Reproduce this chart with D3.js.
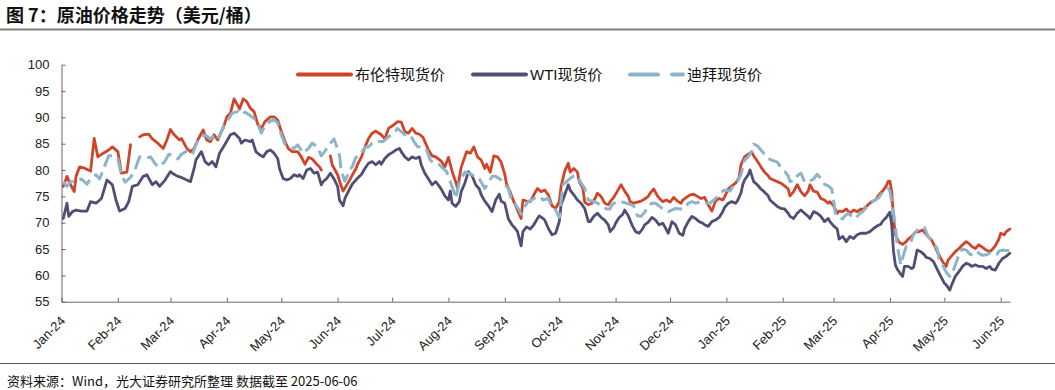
<!DOCTYPE html>
<html><head><meta charset="utf-8">
<script src="https://cdn.jsdelivr.net/npm/d3@7"></script>
<style>
html,body{margin:0;padding:0;background:#fff;}
svg{display:block;}
text{font-family:"Liberation Sans","Noto Sans CJK SC",Arial,sans-serif;}
</style></head><body>
<svg id="chart" width="1055" height="390"></svg>
<script>
const titleText = "图 7：原油价格走势（美元/桶）";
const sourceText = "资料来源：Wind，光大证券研究所整理  数据截至 2025-06-06";
const seriesNames = ["布伦特现货价", "WTI现货价", "迪拜现货价"];
const yTicks = [55, 60, 65, 70, 75, 80, 85, 90, 95, 100];
const xTickDates = ["2024-01-01","2024-02-01","2024-03-01","2024-04-01","2024-05-01","2024-06-01","2024-07-01","2024-08-01","2024-09-01","2024-10-01","2024-11-01","2024-12-01","2025-01-01","2025-02-01","2025-03-01","2025-04-01","2025-05-01","2025-06-01"];
const dateRange = ["2024-01-01", "2025-06-06"];

const brent = [
["2024-01-02",76.9],["2024-01-04",78.8],["2024-01-06",77.2],["2024-01-08",75.9],["2024-01-09",78.8],["2024-01-11",80.6],["2024-01-14",80.3],["2024-01-17",79.8],["2024-01-19",86.0],["2024-01-21",82.5],["2024-01-24",83.2],["2024-01-27",83.8],["2024-01-29",84.4],["2024-02-01",83.5],["2024-02-03",79.4],["2024-02-06",79.6],["2024-02-08",84.8],["2024-02-10",null],["2024-02-13",86.3],["2024-02-15",86.7],["2024-02-18",86.8],["2024-02-20",85.9],["2024-02-23",85.1],["2024-02-26",84.1],["2024-02-28",85.7],["2024-03-01",87.7],["2024-03-03",86.7],["2024-03-06",85.7],["2024-03-07",86.0],["2024-03-10",84.1],["2024-03-12",83.5],["2024-03-14",84.1],["2024-03-16",85.7],["2024-03-19",87.6],["2024-03-21",85.7],["2024-03-23",85.4],["2024-03-25",86.7],["2024-03-27",85.7],["2024-03-29",87.3],
["2024-03-30",87.9],["2024-04-01",90.1],["2024-04-03",90.8],["2024-04-05",93.5],["2024-04-06",92.9],["2024-04-08",91.6],["2024-04-10",93.5],["2024-04-12",93.0],["2024-04-14",91.7],["2024-04-16",91.1],["2024-04-18",88.7],["2024-04-20",87.9],["2024-04-22",89.2],["2024-04-25",90.1],["2024-04-27",90.1],["2024-04-29",89.5],["2024-05-01",87.3],["2024-05-03",85.4],["2024-05-05",84.0],["2024-05-07",83.5],["2024-05-10",83.5],["2024-05-12",82.5],["2024-05-14",81.1],["2024-05-16",82.4],["2024-05-18",82.1],["2024-05-20",81.3],["2024-05-22",80.6],["2024-05-23",80.0],["2024-05-25",null],["2024-05-28",82.7],["2024-05-29",81.0],["2024-06-01",79.1],["2024-06-03",76.9],["2024-06-04",76.0],["2024-06-07",77.7],["2024-06-09",79.0],["2024-06-11",80.2],["2024-06-12",81.1],["2024-06-14",82.4],["2024-06-16",84.3],["2024-06-18",86.0],["2024-06-20",87.0],["2024-06-22",87.4],["2024-06-25",86.7],
["2024-06-27",85.9],["2024-06-29",87.9],["2024-07-02",88.6],["2024-07-04",89.2],["2024-07-06",89.1],["2024-07-08",87.3],["2024-07-10",87.0],["2024-07-12",87.9],["2024-07-14",87.0],["2024-07-16",86.8],["2024-07-18",86.2],["2024-07-21",83.8],["2024-07-23",82.7],["2024-07-25",82.5],["2024-07-28",81.7],["2024-07-30",80.6],["2024-08-01",82.4],["2024-08-03",79.8],["2024-08-05",77.7],["2024-08-06",76.5],["2024-08-08",80.5],["2024-08-10",82.5],["2024-08-11",83.5],["2024-08-13",83.2],["2024-08-15",84.4],["2024-08-17",82.5],["2024-08-19",81.9],["2024-08-21",80.3],["2024-08-22",81.1],["2024-08-24",79.6],["2024-08-26",82.7],["2024-08-28",82.5],["2024-08-30",81.5],["2024-09-01",79.2],["2024-09-02",77.3],["2024-09-04",75.8],["2024-09-06",74.0],["2024-09-08",72.4],["2024-09-10",70.8],["2024-09-11",74.3],["2024-09-13",74.1],["2024-09-15",74.0],["2024-09-17",75.3],["2024-09-19",76.5],["2024-09-21",75.9],
["2024-09-23",76.2],["2024-09-25",75.3],["2024-09-27",73.2],["2024-09-29",72.7],["2024-10-01",74.0],["2024-10-02",76.9],["2024-10-04",79.8],["2024-10-06",81.3],["2024-10-07",79.6],["2024-10-09",80.3],["2024-10-11",79.6],["2024-10-12",77.8],["2024-10-14",76.5],["2024-10-15",73.9],["2024-10-17",73.4],["2024-10-19",73.7],["2024-10-21",74.8],["2024-10-22",75.6],["2024-10-24",75.0],["2024-10-26",73.7],["2024-10-28",73.4],["2024-10-29",74.0],["2024-10-31",74.8],["2024-11-02",76.0],["2024-11-04",77.2],["2024-11-06",76.0],["2024-11-08",75.0],["2024-11-09",74.0],["2024-11-11",73.7],["2024-11-13",73.9],["2024-11-15",74.1],["2024-11-17",74.5],["2024-11-19",75.0],["2024-11-20",75.6],["2024-11-22",76.4],["2024-11-24",75.1],["2024-11-26",74.3],["2024-11-27",74.0],["2024-11-29",74.3],["2024-12-01",73.9],["2024-12-03",74.8],["2024-12-05",74.1],["2024-12-07",73.7],["2024-12-08",74.3],["2024-12-10",74.8],["2024-12-12",75.3],["2024-12-14",75.4],["2024-12-16",75.0],["2024-12-18",74.6],
["2024-12-20",74.8],["2024-12-22",73.4],["2024-12-24",72.2],["2024-12-26",74.1],["2024-12-28",74.6],["2024-12-30",74.3],["2024-12-31",74.9],["2025-01-02",76.4],["2025-01-04",77.0],["2025-01-06",77.5],["2025-01-08",78.6],["2025-01-09",81.0],["2025-01-11",82.5],["2025-01-13",83.0],["2025-01-15",83.4],["2025-01-16",82.7],["2025-01-18",81.7],["2025-01-20",80.6],["2025-01-22",79.6],["2025-01-24",78.9],["2025-01-25",78.4],["2025-01-27",78.1],["2025-01-29",77.8],["2025-01-31",77.5],["2025-02-02",77.0],["2025-02-04",76.4],["2025-02-05",75.1],["2025-02-07",75.9],["2025-02-09",77.2],["2025-02-11",75.9],["2025-02-13",75.1],["2025-02-15",76.0],["2025-02-16",77.2],["2025-02-18",76.0],["2025-02-20",75.8],["2025-02-22",74.6],["2025-02-24",74.3],["2025-02-26",73.7],["2025-02-27",74.0],["2025-03-01",73.2],["2025-03-03",71.8],["2025-03-04",72.2],["2025-03-06",72.1],["2025-03-08",72.6],["2025-03-10",71.8],["2025-03-12",72.4],["2025-03-14",72.1],["2025-03-16",72.6],
["2025-03-17",72.4],["2025-03-20",73.4],["2025-03-22",74.0],["2025-03-24",74.3],["2025-03-26",75.3],["2025-03-28",76.0],["2025-03-30",77.0],["2025-03-31",77.8],["2025-04-01",77.9],["2025-04-02",75.9],["2025-04-03",70.8],["2025-04-04",67.7],["2025-04-06",66.3],["2025-04-08",65.9],["2025-04-10",66.4],["2025-04-11",66.9],["2025-04-13",67.4],["2025-04-15",68.2],["2025-04-17",68.3],["2025-04-19",68.6],["2025-04-21",67.8],["2025-04-22",67.4],["2025-04-24",66.7],["2025-04-26",65.3],["2025-04-28",63.9],["2025-04-30",62.6],["2025-05-02",61.7],["2025-05-03",62.9],["2025-05-05",63.7],["2025-05-07",64.5],["2025-05-09",65.1],["2025-05-11",65.8],["2025-05-13",66.4],["2025-05-15",65.9],["2025-05-16",65.5],["2025-05-18",65.1],["2025-05-20",65.8],["2025-05-22",65.3],["2025-05-24",64.8],["2025-05-26",64.5],["2025-05-27",64.8],["2025-05-29",65.6],["2025-05-31",66.9],["2025-06-01",68.0],["2025-06-03",67.7],["2025-06-04",68.3],["2025-06-06",68.8]
];

const wti = [
["2024-01-02",70.8],["2024-01-04",73.7],["2024-01-05",71.2],["2024-01-07",72.1],["2024-01-09",72.4],["2024-01-12",72.2],["2024-01-15",72.2],["2024-01-17",74.0],["2024-01-20",73.7],["2024-01-23",74.6],["2024-01-26",78.1],["2024-01-29",77.2],["2024-01-31",74.3],["2024-02-02",72.2],["2024-02-05",72.7],["2024-02-07",74.0],["2024-02-09",76.9],["2024-02-12",77.2],["2024-02-15",78.8],["2024-02-17",79.1],["2024-02-20",77.2],["2024-02-22",77.8],["2024-02-24",76.9],["2024-02-27",78.1],["2024-03-01",79.7],["2024-03-02",79.4],["2024-03-05",78.8],["2024-03-07",78.6],["2024-03-10",78.1],["2024-03-12",77.8],["2024-03-14",80.3],["2024-03-15",81.9],["2024-03-18",83.5],["2024-03-20",81.6],["2024-03-22",81.0],["2024-03-24",81.6],["2024-03-26",80.6],["2024-03-28",83.2],
["2024-03-31",84.9],["2024-04-03",86.7],["2024-04-05",87.0],["2024-04-06",86.7],["2024-04-08",86.0],["2024-04-09",85.1],["2024-04-11",85.7],["2024-04-14",85.4],["2024-04-15",85.7],["2024-04-17",83.5],["2024-04-19",82.9],["2024-04-21",82.5],["2024-04-23",83.5],["2024-04-25",83.8],["2024-04-27",83.2],["2024-04-29",82.2],["2024-04-30",80.3],["2024-05-02",78.4],["2024-05-04",78.1],["2024-05-06",78.4],["2024-05-08",79.1],["2024-05-10",78.8],["2024-05-11",79.1],["2024-05-13",78.4],["2024-05-15",80.0],["2024-05-17",80.3],["2024-05-19",79.4],["2024-05-21",79.6],["2024-05-23",77.2],["2024-05-24",77.8],["2024-05-26",78.4],["2024-05-28",79.4],["2024-05-30",78.3],["2024-06-01",76.9],["2024-06-02",74.3],["2024-06-04",73.2],["2024-06-05",74.6],["2024-06-07",76.0],["2024-06-09",77.3],["2024-06-11",78.1],["2024-06-13",78.8],["2024-06-14",79.1],["2024-06-16",80.3],["2024-06-18",81.3],["2024-06-20",81.6],["2024-06-22",81.0],["2024-06-24",81.6],["2024-06-25",81.1],
["2024-06-27",82.2],["2024-06-29",82.9],["2024-07-01",83.3],["2024-07-03",83.8],["2024-07-05",84.1],["2024-07-06",83.5],["2024-07-08",82.5],["2024-07-10",81.9],["2024-07-12",82.5],["2024-07-14",82.2],["2024-07-16",82.5],["2024-07-17",81.0],["2024-07-19",79.4],["2024-07-21",78.3],["2024-07-23",77.2],["2024-07-25",77.8],["2024-07-27",76.9],["2024-07-28",76.4],["2024-07-30",75.1],["2024-08-01",74.3],["2024-08-02",76.0],["2024-08-03",73.7],["2024-08-05",73.1],["2024-08-07",74.0],["2024-08-08",75.9],["2024-08-10",77.5],["2024-08-12",79.7],["2024-08-14",78.9],["2024-08-16",77.2],["2024-08-18",76.4],["2024-08-19",75.3],["2024-08-21",74.1],["2024-08-23",73.2],["2024-08-25",72.1],["2024-08-27",74.3],["2024-08-29",75.4],["2024-08-30",74.1],["2024-09-01",73.7],["2024-09-03",70.7],["2024-09-05",69.6],["2024-09-07",68.8],["2024-09-08",68.3],["2024-09-10",65.6],["2024-09-11",68.3],["2024-09-13",69.2],["2024-09-15",68.8],["2024-09-17",69.6],["2024-09-19",70.8],["2024-09-20",71.3],["2024-09-22",70.8],
["2024-09-23",70.5],["2024-09-25",68.9],["2024-09-27",67.7],["2024-09-29",68.0],["2024-10-01",70.2],["2024-10-02",73.4],["2024-10-04",75.3],["2024-10-06",77.2],["2024-10-07",76.2],["2024-10-09",75.3],["2024-10-11",74.3],["2024-10-13",73.7],["2024-10-15",72.7],["2024-10-17",70.2],["2024-10-18",70.2],["2024-10-20",71.2],["2024-10-22",71.8],["2024-10-24",71.0],["2024-10-26",70.5],["2024-10-28",69.6],["2024-10-29",68.3],["2024-10-31",69.1],["2024-11-01",69.9],["2024-11-03",71.0],["2024-11-05",71.6],["2024-11-06",72.4],["2024-11-08",71.3],["2024-11-10",69.6],["2024-11-12",68.3],["2024-11-14",68.0],["2024-11-16",68.9],["2024-11-17",69.6],["2024-11-19",70.1],["2024-11-21",71.0],["2024-11-23",70.5],["2024-11-25",69.6],["2024-11-27",69.9],["2024-11-28",69.3],["2024-11-30",68.0],["2024-12-02",70.2],["2024-12-04",69.6],["2024-12-06",68.0],["2024-12-08",67.6],["2024-12-09",68.9],["2024-12-11",70.2],["2024-12-13",71.2],["2024-12-15",70.8],["2024-12-17",70.2],["2024-12-19",69.9],
["2024-12-20",69.6],["2024-12-22",69.3],["2024-12-24",70.2],["2024-12-26",70.5],["2024-12-28",71.0],["2024-12-30",72.1],["2024-12-31",72.9],["2025-01-02",73.7],["2025-01-04",74.0],["2025-01-06",73.7],["2025-01-07",74.1],["2025-01-09",75.6],["2025-01-10",77.2],["2025-01-11",78.1],["2025-01-13",79.1],["2025-01-14",80.0],["2025-01-15",78.9],["2025-01-16",77.8],["2025-01-18",77.2],["2025-01-20",76.4],["2025-01-22",75.8],["2025-01-24",75.1],["2025-01-25",74.3],["2025-01-27",73.7],["2025-01-29",73.1],["2025-01-31",72.7],["2025-02-02",72.6],["2025-02-04",71.8],["2025-02-05",71.2],["2025-02-07",70.8],["2025-02-09",71.8],["2025-02-11",72.4],["2025-02-13",71.8],["2025-02-15",71.2],["2025-02-16",70.8],["2025-02-18",72.1],["2025-02-20",71.8],["2025-02-22",71.2],["2025-02-24",70.2],["2025-02-26",70.8],["2025-02-27",70.2],["2025-03-01",69.4],["2025-03-03",68.8],["2025-03-04",66.9],["2025-03-06",67.4],["2025-03-08",66.4],["2025-03-10",67.4],["2025-03-12",67.0],["2025-03-14",67.7],["2025-03-16",68.0],
["2025-03-19",68.0],["2025-03-21",68.3],["2025-03-23",68.9],["2025-03-25",69.4],["2025-03-27",69.7],["2025-03-28",70.3],["2025-03-30",71.0],["2025-04-01",72.0],["2025-04-02",69.6],["2025-04-03",64.5],["2025-04-04",62.0],["2025-04-05",61.2],["2025-04-07",60.2],["2025-04-08",59.8],["2025-04-09",61.7],["2025-04-11",61.7],["2025-04-13",61.3],["2025-04-14",61.5],["2025-04-16",64.8],["2025-04-18",64.5],["2025-04-20",63.9],["2025-04-21",63.4],["2025-04-23",63.2],["2025-04-25",62.6],["2025-04-27",61.2],["2025-04-29",59.8],["2025-05-01",58.5],["2025-05-02",58.2],["2025-05-04",57.2],["2025-05-05",58.2],["2025-05-07",59.8],["2025-05-09",60.7],["2025-05-11",61.7],["2025-05-13",62.3],["2025-05-15",62.0],["2025-05-16",61.7],["2025-05-18",62.0],["2025-05-20",61.7],["2025-05-22",61.7],["2025-05-24",61.3],["2025-05-26",61.7],["2025-05-27",61.2],["2025-05-29",61.0],["2025-05-31",62.3],["2025-06-02",63.2],["2025-06-04",63.6],["2025-06-06",64.2]
];

const dubai = [
["2024-01-02",77.8],["2024-01-04",76.9],["2024-01-06",77.8],["2024-01-09",77.9],["2024-01-12",78.3],["2024-01-15",77.3],["2024-01-17",78.4],["2024-01-20",79.1],["2024-01-22",78.3],["2024-01-25",81.0],["2024-01-27",82.7],["2024-01-30",82.7],["2024-02-01",82.1],["2024-02-03",79.1],["2024-02-05",77.7],["2024-02-08",78.6],["2024-02-10",79.6],["2024-02-13",82.5],["2024-02-16",82.2],["2024-02-19",82.5],["2024-02-22",81.0],["2024-02-24",80.6],["2024-02-27",81.7],["2024-02-29",83.0],["2024-03-03",82.7],["2024-03-05",82.1],["2024-03-07",83.0],["2024-03-10",83.6],["2024-03-13",82.9],["2024-03-15",84.8],["2024-03-17",86.2],["2024-03-20",86.7],["2024-03-23",85.9],["2024-03-25",86.7],["2024-03-27",86.0],["2024-03-29",87.3],
["2024-03-30",88.2],["2024-04-02",89.7],["2024-04-04",90.8],["2024-04-07",91.1],["2024-04-09",90.5],["2024-04-11",91.0],["2024-04-14",90.3],["2024-04-16",89.8],["2024-04-18",88.7],["2024-04-20",87.0],["2024-04-22",88.4],["2024-04-25",89.3],["2024-04-27",89.6],["2024-04-29",88.9],["2024-05-01",86.7],["2024-05-03",84.9],["2024-05-06",84.4],["2024-05-08",84.1],["2024-05-10",84.8],["2024-05-13",83.2],["2024-05-16",84.1],["2024-05-18",85.1],["2024-05-21",84.4],["2024-05-23",82.7],["2024-05-25",83.6],["2024-05-28",85.1],["2024-05-30",85.9],["2024-06-02",82.9],["2024-06-03",79.7],["2024-06-05",77.9],["2024-06-08",80.2],["2024-06-09",80.6],["2024-06-11",82.4],["2024-06-13",82.7],["2024-06-16",84.3],["2024-06-18",84.4],["2024-06-20",85.1],["2024-06-22",85.4],["2024-06-25",85.4],
["2024-06-26",85.4],["2024-06-29",86.3],["2024-07-02",87.0],["2024-07-04",87.9],["2024-07-06",87.3],["2024-07-08",86.7],["2024-07-11",86.7],["2024-07-13",85.4],["2024-07-15",84.4],["2024-07-18",84.4],["2024-07-20",83.8],["2024-07-22",81.9],["2024-07-24",81.3],["2024-07-27",81.0],["2024-07-29",80.3],["2024-07-31",79.7],["2024-08-02",77.8],["2024-08-04",75.9],["2024-08-05",74.6],["2024-08-07",77.8],["2024-08-10",79.6],["2024-08-12",79.4],["2024-08-14",79.1],["2024-08-16",78.6],["2024-08-18",78.3],["2024-08-21",76.5],["2024-08-23",77.5],["2024-08-25",78.8],["2024-08-27",78.8],["2024-08-30",78.1],["2024-09-01",77.2],["2024-09-03",76.5],["2024-09-05",74.0],["2024-09-07",73.4],["2024-09-09",72.4],["2024-09-10",71.6],["2024-09-12",73.1],["2024-09-14",74.0],["2024-09-17",74.6],["2024-09-19",74.9],["2024-09-21",74.8],
["2024-09-22",74.3],["2024-09-25",74.6],["2024-09-27",72.9],["2024-09-29",72.4],["2024-10-01",71.0],["2024-10-03",77.2],["2024-10-05",77.8],["2024-10-07",78.4],["2024-10-09",78.9],["2024-10-11",78.8],["2024-10-13",77.5],["2024-10-15",76.5],["2024-10-17",74.3],["2024-10-19",74.1],["2024-10-21",73.9],["2024-10-23",73.5],["2024-10-25",73.2],["2024-10-27",72.6],["2024-10-29",72.6],["2024-10-30",73.4],["2024-11-01",73.9],["2024-11-03",74.0],["2024-11-05",73.9],["2024-11-07",73.7],["2024-11-09",73.5],["2024-11-11",73.2],["2024-11-13",71.3],["2024-11-15",71.2],["2024-11-17",72.0],["2024-11-19",73.1],["2024-11-21",73.7],["2024-11-23",73.7],["2024-11-26",72.9],["2024-11-28",72.4],["2024-11-30",72.1],["2024-12-02",72.4],["2024-12-04",72.7],["2024-12-07",72.6],["2024-12-09",72.7],["2024-12-11",73.7],["2024-12-13",74.0],["2024-12-15",73.7],["2024-12-18",74.0],
["2024-12-20",73.7],["2024-12-23",73.7],["2024-12-25",74.3],["2024-12-27",74.9],["2024-12-29",75.8],["2024-12-31",76.2],["2025-01-03",76.0],["2025-01-05",77.2],["2025-01-07",77.8],["2025-01-09",79.1],["2025-01-11",81.9],["2025-01-13",82.5],["2025-01-15",83.6],["2025-01-16",84.9],["2025-01-18",84.6],["2025-01-20",83.8],["2025-01-22",83.0],["2025-01-24",82.2],["2025-01-26",81.9],["2025-01-29",81.5],["2025-01-31",80.5],["2025-02-02",79.8],["2025-02-04",78.9],["2025-02-05",77.8],["2025-02-08",78.1],["2025-02-09",78.9],["2025-02-11",79.4],["2025-02-13",77.8],["2025-02-15",77.7],["2025-02-18",78.3],["2025-02-20",79.2],["2025-02-22",78.4],["2025-02-24",77.3],["2025-02-26",77.0],["2025-02-28",76.4],["2025-03-01",74.3],["2025-03-02",71.8],["2025-03-04",71.0],["2025-03-06",70.7],["2025-03-07",71.2],["2025-03-09",71.8],["2025-03-11",71.2],["2025-03-13",70.8],["2025-03-15",71.6],["2025-03-17",72.1],
["2025-03-19",72.9],["2025-03-22",73.9],["2025-03-24",74.3],["2025-03-26",74.8],["2025-03-27",75.4],["2025-03-29",75.8],["2025-03-31",76.5],["2025-04-01",76.0],["2025-04-02",74.0],["2025-04-04",69.6],["2025-04-05",65.8],["2025-04-07",62.0],["2025-04-09",64.5],["2025-04-10",65.5],["2025-04-12",65.9],["2025-04-14",67.7],["2025-04-16",68.6],["2025-04-18",68.8],["2025-04-20",69.1],["2025-04-22",67.4],["2025-04-24",66.5],["2025-04-27",65.1],["2025-04-28",63.2],["2025-04-30",62.0],["2025-05-02",60.6],["2025-05-04",59.8],["2025-05-06",61.0],["2025-05-08",62.9],["2025-05-09",64.2],["2025-05-11",65.0],["2025-05-13",64.8],["2025-05-15",64.0],["2025-05-17",63.9],["2025-05-19",64.5],["2025-05-20",64.2],["2025-05-22",63.8],["2025-05-24",63.9],["2025-05-26",64.2],["2025-05-28",63.8],["2025-05-30",64.0],["2025-05-31",64.6],["2025-06-02",64.8],["2025-06-04",64.7],["2025-06-06",64.8]
];

const colors = ["#d0452a", "#514e74", "#8cb5c9"];

const parse = d3.timeParse("%Y-%m-%d");
const fmt = d3.timeFormat("%b-%y");
const svg = d3.select("#chart");
const W = 1055, H = 390;
const m = {left: 61.5, right: 1009.8, top: 64.7, bottom: 301.7};

// header & footer
svg.append("text").attr("x", 6).attr("y", 22)
  .attr("font-size", 18).attr("font-weight", "bold").attr("fill", "#111")
  .style("font-family", "'Noto Sans CJK SC', sans-serif")
  .text(titleText);
svg.append("line").attr("x1", 0).attr("x2", W).attr("y1", 29.5).attr("y2", 29.5)
  .attr("stroke", "#7f7f7f").attr("stroke-width", 2);
svg.append("line").attr("x1", 0).attr("x2", W).attr("y1", 363.5).attr("y2", 363.5)
  .attr("stroke", "#555").attr("stroke-width", 1);
svg.append("text").attr("x", 7).attr("y", 386)
  .attr("font-size", 13).attr("fill", "#111")
  .style("font-family", "'Noto Sans CJK SC', sans-serif")
  .text(sourceText);

const x = d3.scaleTime().domain(dateRange.map(parse)).range([m.left, m.right]);
const y = d3.scaleLinear().domain([55, 100]).range([m.bottom, m.top]);

// y axis
const yAxis = svg.append("g").attr("transform", `translate(${m.left},0)`)
  .call(d3.axisLeft(y).tickValues(yTicks).tickSize(-4).tickPadding(12).tickSizeOuter(0));
yAxis.select(".domain").attr("stroke", "#666");
yAxis.selectAll(".tick line").attr("stroke", "#666");
yAxis.selectAll("text").attr("font-size", 13).attr("fill", "#222")
  .style("font-family", "'Liberation Sans', Arial, sans-serif");

// x axis
const xAxis = svg.append("g").attr("transform", `translate(0,${m.bottom})`)
  .call(d3.axisBottom(x).tickValues(xTickDates.map(parse)).tickFormat(fmt).tickSize(-4).tickSizeOuter(0));
xAxis.select(".domain").attr("stroke", "#666");
xAxis.selectAll(".tick line").attr("stroke", "#666");
xAxis.selectAll("text")
  .attr("font-size", 13).attr("fill", "#222")
  .style("font-family", "'Liberation Sans', Arial, sans-serif")
  .attr("text-anchor", "end")
  .attr("y", 0).attr("dy", 0)
  .attr("transform", "translate(4,20) rotate(-45)");

// lines
const line = d3.line()
  .defined(d => d[1] !== null)
  .x(d => x(parse(d[0])))
  .y(d => y(d[1]))
  .curve(d3.curveLinear);

const seriesData = [brent, wti, dubai];
seriesData.forEach((s, i) => {
  svg.append("path").datum(s)
    .attr("fill", "none")
    .attr("stroke", colors[i])
    .attr("stroke-width", i === 2 ? 3 : 2.8)
    .attr("stroke-linejoin", "round")
    .attr("stroke-linecap", i === 2 ? "butt" : "round")
    .attr("stroke-dasharray", i === 2 ? "15,6" : null)
    .attr("d", line);
});

// legend
const legendPos = [
  {lx: 298, tx: 355},
  {lx: 473, tx: 530},
  {lx: 630, tx: 687}
];
seriesNames.forEach((name, i) => {
  const p = legendPos[i];
  svg.append("line").attr("x1", p.lx).attr("x2", p.lx + 53)
    .attr("y1", 74.5).attr("y2", 74.5)
    .attr("stroke", colors[i]).attr("stroke-width", 4)
    .attr("stroke-linecap", "round")
    .attr("stroke-dasharray", i === 2 ? "28,14" : null);
  svg.append("text").attr("x", p.tx).attr("y", 74.5)
    .attr("dominant-baseline", "central")
    .attr("font-size", 15).attr("fill", "#111")
    .style("font-family", "'Liberation Sans', 'Noto Sans CJK SC', sans-serif")
    .text(name);
});
</script>
</body></html>
